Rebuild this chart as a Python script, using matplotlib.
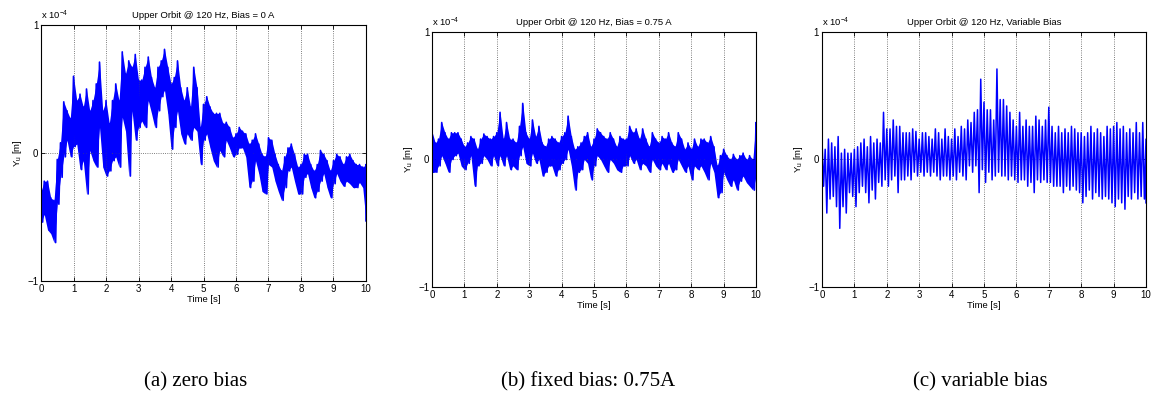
import matplotlib
matplotlib.use("Agg")
import matplotlib.pyplot as plt
import numpy as np

# sample times [s], one every 0.1 s
time_s = np.round(np.arange(0, 101) * 0.1, 2)

# zero bias: upper / lower edge of the trace [x 1e-4 m]
zero_hi = [-0.30, -0.22, -0.22, -0.35, -0.37, -0.05, 0.08, 0.40, 0.33, 0.27,
           0.60, 0.41, 0.46, 0.36, 0.50, 0.33, 0.41, 0.54, 0.71, 0.33,
           0.41, 0.23, 0.41, 0.54, 0.41, 0.79, 0.62, 0.72, 0.67, 0.77,
           0.57, 0.57, 0.67, 0.75, 0.59, 0.51, 0.67, 0.72, 0.81, 0.67,
           0.54, 0.59, 0.72, 0.51, 0.41, 0.51, 0.36, 0.67, 0.51, 0.20,
           0.38, 0.44, 0.36, 0.31, 0.31, 0.31, 0.23, 0.24, 0.20, 0.12,
           0.15, 0.20, 0.17, 0.15, 0.07, 0.10, 0.15, 0.07, -0.01, -0.03,
           0.12, 0.10, -0.01, -0.09, -0.14, -0.03, 0.04, 0.07, -0.01, -0.11,
           -0.09, -0.01, -0.01, -0.09, -0.14, -0.09, 0.02, -0.01, -0.06, -0.14,
           -0.06, -0.01, -0.03, -0.09, -0.03, -0.01, -0.06, -0.09, -0.09, -0.11,
           -0.09]
zero_lo = [-0.54, -0.48, -0.60, -0.63, -0.70, -0.40, -0.19, -0.03, 0.10, -0.03,
           0.05, 0.07, -0.13, -0.06, -0.32, 0.02, -0.06, -0.11, 0.20, -0.11,
           -0.18, -0.14, -0.06, -0.03, -0.11, 0.28, 0.17, -0.18, 0.33, 0.10,
           0.20, 0.25, 0.20, 0.41, 0.31, 0.20, 0.33, 0.44, 0.49, 0.31,
           0.03, 0.20, 0.33, 0.15, 0.07, 0.15, 0.10, 0.20, 0.17, -0.09,
           0.10, 0.15, 0.04, -0.06, -0.11, 0.02, -0.03, 0.10, 0.04, -0.03,
           -0.01, 0.04, 0.04, -0.03, -0.27, -0.22, -0.06, -0.16, -0.30, -0.32,
           -0.09, -0.11, -0.22, -0.30, -0.37, -0.27, -0.14, -0.11, -0.22, -0.32,
           -0.32, -0.19, -0.16, -0.27, -0.35, -0.30, -0.22, -0.16, -0.27, -0.35,
           -0.24, -0.16, -0.22, -0.26, -0.22, -0.24, -0.27, -0.27, -0.23, -0.27,
           -0.53]

# fixed bias 0.75 A
fixed_hi = [0.22, 0.13, 0.16, 0.29, 0.21, 0.16, 0.21, 0.21, 0.21, 0.16,
            0.10, 0.13, 0.18, 0.16, 0.08, 0.16, 0.20, 0.18, 0.16, 0.18,
            0.21, 0.37, 0.16, 0.29, 0.16, 0.16, 0.13, 0.26, 0.44, 0.21,
            0.16, 0.31, 0.18, 0.26, 0.13, 0.10, 0.16, 0.18, 0.16, 0.13,
            0.18, 0.21, 0.34, 0.18, 0.08, 0.10, 0.13, 0.18, 0.21, 0.10,
            0.16, 0.24, 0.21, 0.18, 0.16, 0.21, 0.16, 0.10, 0.18, 0.16,
            0.16, 0.26, 0.21, 0.24, 0.16, 0.24, 0.16, 0.10, 0.21, 0.16,
            0.13, 0.18, 0.16, 0.21, 0.13, 0.10, 0.21, 0.16, 0.08, 0.13,
            0.08, 0.16, 0.10, 0.16, 0.16, 0.13, 0.18, 0.10, -0.05, 0.03,
            0.08, 0.03, 0.00, 0.04, 0.00, 0.03, 0.05, 0.00, 0.03, 0.00,
            0.29]
fixed_lo = [-0.10, -0.10, -0.05, 0.03, -0.03, -0.10, 0.00, 0.03, 0.05, -0.05,
            -0.08, -0.03, 0.03, -0.21, -0.05, -0.03, 0.03, 0.00, -0.05, 0.03,
            -0.05, 0.03, -0.05, 0.03, -0.08, -0.05, -0.08, 0.03, 0.10, -0.03,
            -0.05, 0.05, -0.03, 0.00, -0.13, -0.10, -0.05, -0.05, -0.13, -0.08,
            -0.03, 0.00, 0.08, -0.05, -0.24, -0.10, -0.08, 0.00, -0.03, -0.16,
            -0.05, 0.03, 0.00, -0.05, -0.10, 0.00, -0.03, -0.08, -0.10, -0.05,
            -0.05, 0.03, -0.03, 0.00, -0.08, -0.03, -0.05, -0.10, 0.00, -0.05,
            -0.08, -0.03, -0.08, -0.03, -0.10, -0.08, 0.00, -0.05, -0.10, -0.05,
            -0.16, -0.05, -0.08, -0.05, -0.10, -0.16, -0.03, -0.10, -0.30, -0.26,
            -0.10, -0.16, -0.21, -0.16, -0.24, -0.17, -0.13, -0.18, -0.21, -0.24,
            -0.13]

# variable bias
var_hi = [0.16, 0.08, 0.16, 0.13, 0.10, 0.18, 0.05, 0.08, 0.05, 0.05,
          0.08, 0.10, 0.13, 0.16, 0.10, 0.18, 0.13, 0.16, 0.13, 0.37,
          0.24, 0.24, 0.31, 0.26, 0.26, 0.21, 0.21, 0.21, 0.24, 0.22,
          0.16, 0.21, 0.21, 0.18, 0.16, 0.24, 0.21, 0.16, 0.24, 0.18,
          0.16, 0.24, 0.18, 0.26, 0.24, 0.31, 0.29, 0.37, 0.39, 0.63,
          0.45, 0.39, 0.39, 0.31, 0.71, 0.47, 0.47, 0.42, 0.37, 0.31,
          0.26, 0.37, 0.26, 0.31, 0.26, 0.26, 0.34, 0.31, 0.26, 0.31,
          0.41, 0.26, 0.21, 0.26, 0.21, 0.24, 0.21, 0.26, 0.24, 0.21,
          0.21, 0.18, 0.21, 0.26, 0.21, 0.24, 0.21, 0.18, 0.26, 0.24,
          0.26, 0.29, 0.24, 0.26, 0.21, 0.24, 0.21, 0.29, 0.21, 0.29,
          0.16]
var_lo = [-0.21, -0.42, -0.31, -0.29, -0.37, -0.54, -0.37, -0.42, -0.26, -0.29,
          -0.37, -0.26, -0.21, -0.26, -0.34, -0.24, -0.31, -0.18, -0.21, -0.16,
          -0.21, -0.16, -0.13, -0.26, -0.16, -0.16, -0.13, -0.16, -0.10, -0.13,
          -0.10, -0.13, -0.10, -0.13, -0.10, -0.13, -0.16, -0.13, -0.13, -0.16,
          -0.13, -0.16, -0.10, -0.13, -0.16, -0.05, -0.10, -0.05, -0.26, -0.08,
          -0.18, -0.10, -0.16, -0.13, -0.10, -0.13, -0.13, -0.16, -0.13, -0.16,
          -0.18, -0.16, -0.16, -0.21, -0.18, -0.26, -0.16, -0.18, -0.16, -0.18,
          -0.18, -0.21, -0.21, -0.21, -0.26, -0.21, -0.24, -0.21, -0.24, -0.26,
          -0.34, -0.29, -0.24, -0.31, -0.26, -0.29, -0.31, -0.29, -0.31, -0.34,
          -0.37, -0.31, -0.34, -0.39, -0.29, -0.31, -0.26, -0.31, -0.29, -0.31,
          -0.34]

titles = ["Upper Orbit @ 120 Hz, Bias = 0 A",
          "Upper Orbit @ 120 Hz, Bias = 0.75 A",
          "Upper Orbit @ 120 Hz, Variable Bias"]
captions = ["(a) zero bias", "(b) fixed bias: 0.75A", "(c) variable bias"]

plt.rcParams['font.family'] = ['Liberation Sans', 'DejaVu Sans']


def zigzag(hi, lo):
    '''
        join the upper and lower edge of the trace into one line,
        lower points sit half way between the samples.
    '''
    t_lo = np.minimum(time_s + 0.05, 10.0)
    t = np.empty(2 * len(time_s))
    y = np.empty(2 * len(time_s))
    t[0::2] = time_s
    t[1::2] = t_lo
    y[0::2] = hi
    y[1::2] = lo
    return t, y


fig = plt.figure(figsize=(11.52, 3.94), dpi=100)

# axes boxes in figure fractions (left, bottom, width, height)
boxes = [[0.0356, 0.2868, 0.2821, 0.6497],
         [0.3750, 0.2716, 0.2813, 0.6472],
         [0.7135, 0.2716, 0.2813, 0.6472]]
series = [(zero_hi, zero_lo), (fixed_hi, fixed_lo), (var_hi, var_lo)]
line_w = [1.2, 1.2, 1.1]
solid_band = [True, True, False]
caption_x = [196, 588, 980]

for i in range(3):
    ax = fig.add_axes(boxes[i])
    hi, lo = series[i]
    # the dense trace looks like a solid band in the first two tests
    if solid_band[i]:
        ax.fill_between(time_s, np.minimum(hi, lo), np.maximum(hi, lo),
                        color=(0, 0, 1), lw=0)
    t, y = zigzag(hi, lo)
    ax.plot(t, y, color=(0, 0, 1), lw=line_w[i])
    ax.set_xlim(0, 10)
    ax.set_ylim(-1, 1)
    ax.set_xticks(range(0, 11))
    ax.set_yticks([-1, 0, 1])
    ax.set_yticklabels(['\u22121', '0', '1'])
    ax.grid(True, linestyle=':', color='#555555', linewidth=0.6)
    ax.tick_params(direction='in', top=True, right=True, length=3,
                   width=0.6, labelsize=7, pad=2)
    for sp in ax.spines.values():
        sp.set_linewidth(0.8)
    ax.set_title(titles[i], fontsize=6.8, pad=5)
    ax.set_xlabel('Time [s]', fontsize=6.8, labelpad=1)
    ax.set_ylabel(r'Y$_\mathregular{u}$ [m]', fontsize=6.8, labelpad=2)
    ax.text(0.0, 1.01, r'x 10$^{\mathregular{-4}}$', transform=ax.transAxes,
            fontsize=6.8, ha='left', va='bottom')
    fig.text(caption_x[i] / 1152, 1 - 382 / 394, captions[i],
             family=['Liberation Serif', 'DejaVu Serif'], fontsize=15,
             ha='center', va='center')

fig.savefig('out.png', dpi=100)
